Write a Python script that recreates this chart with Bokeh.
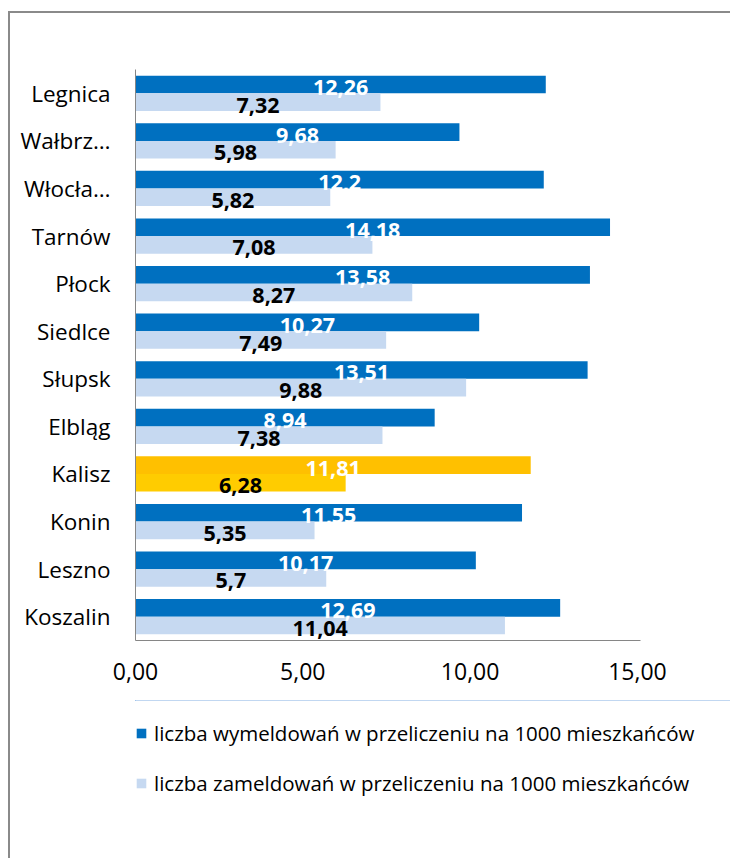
from bokeh.plotting import figure
from bokeh.layouts import column
from bokeh.models import (ColumnDataSource, Range1d, FixedTicker, Legend, LegendItem)
from bokeh.core.properties import value
from bokeh.embed import file_html
from bokeh.resources import INLINE

# ---- data (top to bottom as shown) ----
cities = ["Legnica", "Wałbrz…", "Włocła…", "Tarnów", "Płock", "Siedlce",
          "Słupsk", "Elbląg", "Kalisz", "Konin", "Leszno", "Koszalin"]
wymeldowania = [12.26, 9.68, 12.2, 14.18, 13.58, 10.27, 13.51, 8.94, 11.81, 11.55, 10.17, 12.69]
zameldowania = [7.32, 5.98, 5.82, 7.08, 8.27, 7.49, 9.88, 7.38, 6.28, 5.35, 5.7, 11.04]
highlight = "Kalisz"
x_ticks = [0, 5, 10, 15]
x_tick_labels = ["0,00", "5,00", "10,00", "15,00"]
series_names = ["liczba wymeldowań w przeliczeniu na 1000 mieszkańców",
                "liczba zameldowań w przeliczeniu na 1000 mieszkańców"]

FONT = "Open Sans"
DARK, LIGHT = "#0070C0", "#C6D9F1"
HDARK, HLIGHT = "#FFC000", "#FFCC00"

def fmt(v):
    return ("%g" % v).replace(".", ",")

n = len(cities)
yc = [n - 1 - i + 0.5 for i in range(n)]      # category band centres, first city on top
off = 0.185
bh = 0.37
x_axis_end = 15.09

src = ColumnDataSource(dict(
    city=cities,
    w=wymeldowania,
    z=zameldowania,
    yw=[y + off for y in yc],
    yz=[y - off for y in yc],
    w_mid=[v / 2 for v in wymeldowania],
    z_mid=[v / 2 for v in zameldowania],
    w_txt=[fmt(v) for v in wymeldowania],
    z_txt=[fmt(v) for v in zameldowania],
    c1=[HDARK if c == highlight else DARK for c in cities],
    c2=[HLIGHT if c == highlight else LIGHT for c in cities],
))

# ---------------- main chart ----------------
p = figure(width=720, height=687,
           y_range=Range1d(0, n),
           x_range=Range1d(0, 17.78),
           output_backend="svg", toolbar_location=None,
           min_border_left=125, min_border_top=56, min_border_right=0, min_border_bottom=60)
p.outline_line_color = None
p.xgrid.visible = False
p.ygrid.visible = False

r1 = p.hbar(y="yw", left=0, right="w", height=bh, fill_color="c1", line_color=None, source=src)
r2 = p.hbar(y="yz", left=0, right="z", height=bh, fill_color="c2", line_color=None, source=src)

p.text(x="w_mid", y="yw", text="w_txt", source=src,
       text_color="white", text_font=value(FONT), text_font_style="bold",
       text_font_size="21.5px", text_align="center", text_baseline="middle", y_offset=3)
p.text(x="z_mid", y="yz", text="z_txt", source=src,
       text_color="black", text_font=value(FONT), text_font_style="bold",
       text_font_size="21.5px", text_align="center", text_baseline="middle", y_offset=3)

for ax in (p.xaxis[0], p.yaxis[0]):
    ax.axis_line_color = "#868686"
    ax.axis_line_width = 1
    ax.major_tick_line_color = None
    ax.minor_tick_line_color = None
    ax.major_tick_out = 0
    ax.major_tick_in = 0
    ax.major_label_text_font = FONT
    ax.major_label_text_color = "black"

p.xaxis.bounds = (0, x_axis_end)
p.xaxis.major_label_text_font_size = "23px"
p.xaxis.ticker = FixedTicker(ticks=x_ticks)
p.xaxis.major_label_overrides = dict(zip(x_ticks, x_tick_labels))
p.xaxis.major_label_standoff = 22

p.yaxis.ticker = FixedTicker(ticks=yc)
p.yaxis.major_label_overrides = dict(zip(yc, cities))
p.yaxis.major_label_text_font_size = "22.5px"
p.yaxis.major_label_standoff = 25

# ---------------- legend strip ----------------
# the key renderers use the same series but a y range that shows none of the bars
lg = figure(width=720, height=158, x_range=Range1d(0, 1), y_range=Range1d(-2, -1),
            x_axis_type=None, y_axis_type=None,
            output_backend="svg", toolbar_location=None,
            min_border_left=125, min_border_right=0, min_border_top=0, min_border_bottom=0)
lg.outline_line_color = None
lg.xgrid.visible = False
lg.ygrid.visible = False
k1 = lg.hbar(y="yw", left=0, right="w", height=bh, fill_color=DARK, line_color=None, source=src)
k2 = lg.hbar(y="yz", left=0, right="z", height=bh, fill_color=LIGHT, line_color=None, source=src)

legend = Legend(items=[LegendItem(label=series_names[0], renderers=[k1], index=0),
                       LegendItem(label=series_names[1], renderers=[k2], index=0)],
                location=(0, 61), orientation="vertical",
                glyph_width=12, glyph_height=12, label_standoff=7,
                label_text_font=FONT, label_text_font_size="20.5px", label_text_color="black",
                label_height=24, spacing=22, padding=0, margin=0,
                border_line_color=None, background_fill_alpha=0)
lg.add_layout(legend, "center")

page = column(p, lg, spacing=0)
page.margin = (11, 0, 0, 8)
page.styles = {"border-left": "2px solid #8a8a8a", "border-top": "2px solid #8a8a8a"}

open("out.html", "w").write(file_html(page, INLINE))
